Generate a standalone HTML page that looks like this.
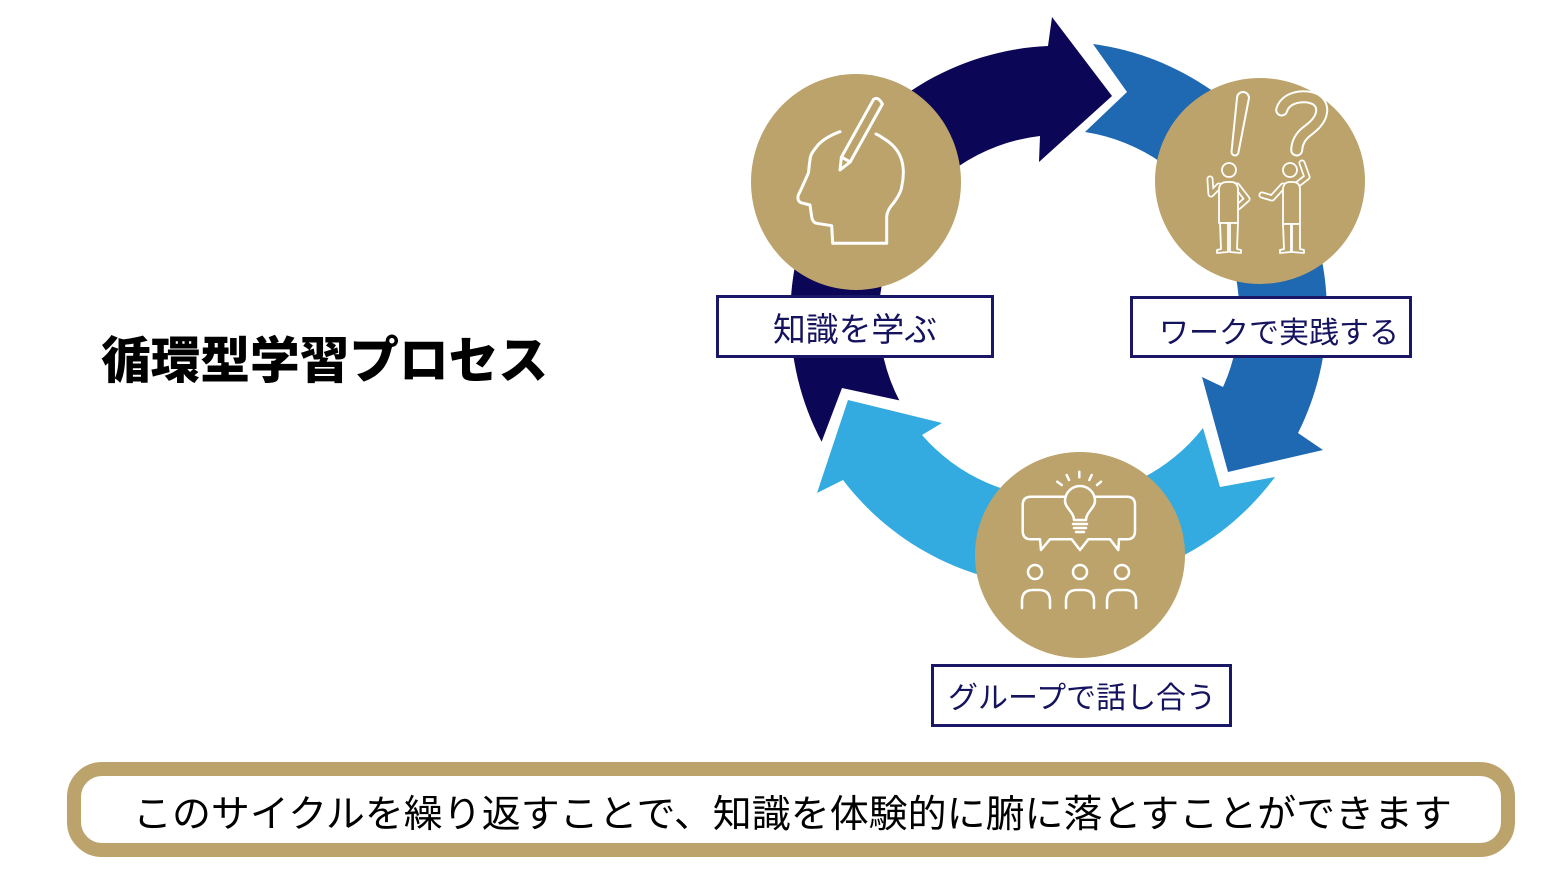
<!DOCTYPE html>
<html lang="ja">
<head>
<meta charset="utf-8">
<style>
  html,body{margin:0;padding:0;background:#ffffff;}
  body{width:1561px;height:894px;overflow:hidden;}
  svg{display:block;}
  .jp{font-family:"Liberation Sans","Noto Sans CJK JP",sans-serif;}
</style>
</head>
<body>
<svg width="1561" height="894" viewBox="0 0 1561 894" xmlns="http://www.w3.org/2000/svg">
  <rect x="0" y="0" width="1561" height="894" fill="#ffffff"/>

  <!-- Title -->
  <text class="jp" x="101" y="378" font-size="50" font-weight="900" fill="#000000" textLength="447" lengthAdjust="spacingAndGlyphs">循環型学習プロセス</text>

  <!-- Dark navy arrow (left-bottom to top) -->
  <path d="M 821.6,441.8 A 270 270 0 0 1 1048,46 L 1052,17 L 1112,96 L 1039,162 L 1040,136 A 182 182 0 0 0 899.3,400.4 L 842,388 Z" fill="#0c0657"/>

  <!-- Medium blue arrow (top-right to right-bottom) -->
  <path d="M 1093,44 A 270 270 0 0 1 1298,433 L 1323,450 L 1228,472 L 1202,377 L 1223,387 A 182 182 0 0 0 1085,132 L 1127,92 Z" fill="#1f68b2"/>

  <!-- Light blue arrow (bottom-right to left) -->
  <path d="M 1275,477 A 270 270 0 0 1 843,480 L 817,493 L 848,400 L 942,423 L 922,435 A 182 182 0 0 0 1203,428 L 1220,487 Z" fill="#33abe0"/>

  <!-- Gold circles -->
  <ellipse cx="856" cy="182" rx="105" ry="108" fill="#bca36b"/>
  <ellipse cx="1260" cy="181" rx="105" ry="103" fill="#bca36b"/>
  <ellipse cx="1080" cy="555" rx="105" ry="103" fill="#bca36b"/>

  <!-- Head icon -->
  <g fill="none" stroke="#ffffff" stroke-width="3" stroke-linejoin="round" stroke-linecap="round">
    <path d="M 840,131.7 C 828,136 820,142 816.7,146.7 C 812,152 810,156 810,160 C 809,165 809,170 808.3,173.3 L 800,191.7 C 798,195 797.5,198 798.3,200 C 799,202 801,203 803.3,203.3 L 810,205 L 811.7,216.7 C 812,220 814,223 816.7,223.3 L 831.7,225.7 L 832.7,243.3 L 886.7,243.3 L 886.7,216.7 C 887,211 890,207 893.3,203.3 C 898,197 901,192 901.7,186.7 C 903,181 903.5,175 903.3,170 C 903,163 901,156 896.7,150 C 893,145 888,141 883.3,138.3 C 881,136.5 878.5,135 876,134"/>
    <path d="M 840,170 L 841.4,157.1 L 873.6,99.3 Q 878,96 882.4,104.1 L 850.2,161.9 Z"/>
    <path d="M 841.4,157.1 L 850.2,161.9"/>
  </g>

  <!-- Right circle icon: exclamation + question + two people -->
  <g fill="none" stroke="#ffffff" stroke-width="2" stroke-linejoin="round" stroke-linecap="round">
    <path d="M1237,98 A6,6 0 0 1 1249,98 L1238.5,152 A3.5,3.5 0 0 1 1231.5,152 Z"/>
  </g>
  <path d="M1281.7,110 C1284,102 1292,97 1303,96.7 C1315,96.5 1322,102 1321.7,111 C1321,120 1314,126 1306,132 C1300,137 1297,143 1296.7,150" fill="none" stroke="#ffffff" stroke-width="13" stroke-linecap="round" stroke-linejoin="round"/>
  <path d="M1281.7,110 C1284,102 1292,97 1303,96.7 C1315,96.5 1322,102 1321.7,111 C1321,120 1314,126 1306,132 C1300,137 1297,143 1296.7,150" fill="none" stroke="#bca36b" stroke-width="9" stroke-linecap="round" stroke-linejoin="round"/>

  <!-- people arms (double stroke outline) -->
  <g fill="none" stroke-linecap="round" stroke-linejoin="round">
    <path d="M1219,186 L1211,194 L1210,179" stroke="#ffffff" stroke-width="7"/>
    <path d="M1237,186 L1247,199 L1238,207" stroke="#ffffff" stroke-width="7"/>
    <path d="M1283,186 L1272,198 L1262,195" stroke="#ffffff" stroke-width="7"/>
    <path d="M1298,184 L1307,177 L1302,163" stroke="#ffffff" stroke-width="7"/>
    <path d="M1219,186 L1211,194 L1210,179" stroke="#bca36b" stroke-width="3.5"/>
    <path d="M1237,186 L1247,199 L1238,207" stroke="#bca36b" stroke-width="3.5"/>
    <path d="M1283,186 L1272,198 L1262,195" stroke="#bca36b" stroke-width="3.5"/>
    <path d="M1298,184 L1307,177 L1302,163" stroke="#bca36b" stroke-width="3.5"/>
  </g>
  <g fill="#bca36b" stroke="#ffffff" stroke-width="1.8" stroke-linejoin="round">
    <!-- left person -->
    <circle cx="1229" cy="170" r="7"/>
    <path d="M1219,223 L1219,190 Q1219,182 1227,182 L1231,182 Q1238,182 1238,190 L1238,223 Z"/>
    <path d="M1220,223 L1228,223 L1228,252 L1217,253 L1217,250 L1221,249 Z"/>
    <path d="M1230,223 L1238,223 L1237,249 L1241,250 L1241,253 L1230,252 Z"/>
    <!-- right person -->
    <circle cx="1290" cy="170" r="7"/>
    <path d="M1283,224 L1283,190 Q1283,182 1290,182 L1293,182 Q1300,182 1300,190 L1300,224 Z"/>
    <path d="M1283,224 L1291,224 L1291,252 L1280,253 L1280,250 L1284,249 Z"/>
    <path d="M1292,224 L1300,224 L1300,249 L1304,250 L1304,253 L1292,252 Z"/>
  </g>

  <!-- Bottom circle icon: bulb, bubbles, people -->
  <g fill="none" stroke="#ffffff" stroke-width="2.5" stroke-linecap="round" stroke-linejoin="round">
    <path d="M1057.3,481.7 L1061.7,485"/>
    <path d="M1066.7,475 L1069,480"/>
    <path d="M1079.3,471.7 L1079.3,477.3"/>
    <path d="M1091.7,475 L1089.3,480"/>
    <path d="M1101,481.7 L1097,485"/>
    <path d="M1074,520 C1074,512 1065,508 1065,501 A15,15 0 1 1 1095,501 C1095,508 1086,512 1086,520 Z"/>
    <path d="M1073,524 H1087 M1074,528 H1086 M1076,532 H1084"/>
    <path d="M1065,496.7 H1031 Q1022.7,496.7 1022.7,505 V531 Q1022.7,539.3 1031,539.3 H1040 L1041,550 L1050,539.3 H1071.7 L1080,550 L1088.3,539.3 H1110 L1118.3,550 L1119,539.3 H1127 Q1135,539.3 1135,531 V505 Q1135,496.7 1127,496.7 H1095"/>
    <circle cx="1035" cy="572" r="7"/>
    <circle cx="1080" cy="572" r="7"/>
    <circle cx="1122" cy="572" r="7"/>
    <path d="M1022,608 V601 Q1022,590 1033,590 H1039 Q1050,590 1050,601 V608"/>
    <path d="M1066,608 V601 Q1066,590 1077,590 H1083 Q1094,590 1094,601 V608"/>
    <path d="M1107,608 V601 Q1107,590 1118,590 H1125 Q1136,590 1136,601 V608"/>
  </g>

  <!-- Label boxes -->
  <rect x="717.5" y="296.5" width="275" height="60" fill="#ffffff" stroke="#1a1766" stroke-width="3"/>
  <text class="jp" x="773" y="341" font-size="33" fill="#16135e" textLength="164" lengthAdjust="spacingAndGlyphs">知識を学ぶ</text>

  <rect x="1131.5" y="297.5" width="279" height="59" fill="#ffffff" stroke="#1a1766" stroke-width="3"/>
  <text class="jp" x="1159" y="343" font-size="30" fill="#16135e" textLength="240" lengthAdjust="spacingAndGlyphs">ワークで実践する</text>

  <rect x="932.5" y="665.5" width="298" height="60" fill="#ffffff" stroke="#1a1766" stroke-width="3"/>
  <text class="jp" x="948" y="708" font-size="30" fill="#16135e" textLength="268" lengthAdjust="spacingAndGlyphs">グループで話し合う</text>

  <!-- Bottom banner -->
  <rect x="74" y="769" width="1434" height="81" rx="28" ry="28" fill="#ffffff" stroke="#bca36b" stroke-width="14"/>
  <text class="jp" x="133" y="827" font-size="38" fill="#000000" textLength="1319" lengthAdjust="spacingAndGlyphs">このサイクルを繰り返すことで、知識を体験的に腑に落とすことができます</text>
</svg>
</body>
</html>
